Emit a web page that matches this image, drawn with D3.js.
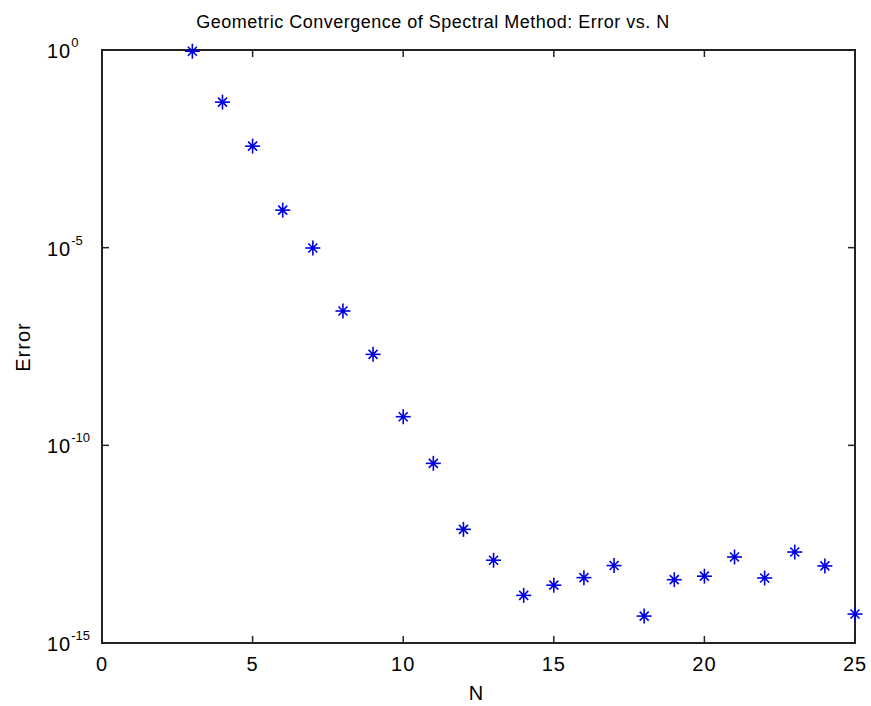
<!DOCTYPE html>
<html>
<head>
<meta charset="utf-8">
<script src="https://cdn.jsdelivr.net/npm/d3@7"></script>
<style>
  body { margin: 0; background: #fff; }
  text { font-family: "Liberation Sans", Arial, sans-serif; fill: #000; }
</style>
</head>
<body>
<svg id="chart" width="871" height="706"></svg>
<script>
// data
const nValues = [3, 4, 5, 6, 7, 8, 9, 10, 11, 12, 13, 14, 15, 16, 17, 18, 19, 20, 21, 22, 23, 24, 25];
const errValues = [0.93, 0.048, 3.7e-3, 8.9e-5, 9.8e-6, 2.5e-7, 2.0e-8, 5.3e-10, 3.5e-11, 7.5e-13,
  1.24e-13, 1.6e-14, 2.9e-14, 4.5e-14, 9.1e-14, 4.8e-15, 4.0e-14, 4.9e-14, 1.5e-13, 4.4e-14,
  2.0e-13, 8.9e-14, 5.4e-15];
const xTicks = [0, 5, 10, 15, 20, 25];
const yTickExps = [0, -5, -10, -15];

const margin = { left: 102, right: 855, top: 50, bottom: 643 };
const svg = d3.select('#chart');

const x = d3.scaleLinear().domain([0, 25]).range([margin.left, margin.right]);
const y = d3.scaleLog().domain([1e-15, 1]).range([margin.bottom, margin.top]);

const tickLen = 7;

// box
svg.append('rect')
  .attr('x', margin.left).attr('y', margin.top)
  .attr('width', margin.right - margin.left)
  .attr('height', margin.bottom - margin.top)
  .attr('fill', '#fff')
  .attr('stroke', '#222')
  .attr('stroke-width', 2);

// x ticks, inside on top and bottom
const xt = svg.append('g');
xTicks.forEach((t) => {
  xt.append('line')
    .attr('x1', x(t)).attr('x2', x(t))
    .attr('y1', margin.bottom).attr('y2', margin.bottom - tickLen)
    .attr('stroke', '#222').attr('stroke-width', 1.5);
  xt.append('line')
    .attr('x1', x(t)).attr('x2', x(t))
    .attr('y1', margin.top).attr('y2', margin.top + tickLen)
    .attr('stroke', '#222').attr('stroke-width', 1.5);
  xt.append('text')
    .attr('x', x(t)).attr('y', margin.bottom + 28)
    .attr('text-anchor', 'middle')
    .style('font-size', '20px')
    .style('letter-spacing', '1px')
    .text(t);
});

// y ticks, inside left and right; labels are left aligned like the original
const yt = svg.append('g');
yTickExps.forEach((e) => {
  const yy = y(Math.pow(10, e));
  yt.append('line')
    .attr('x1', margin.left).attr('x2', margin.left + tickLen)
    .attr('y1', yy).attr('y2', yy)
    .attr('stroke', '#222').attr('stroke-width', 1.5);
  yt.append('line')
    .attr('x1', margin.right).attr('x2', margin.right - tickLen)
    .attr('y1', yy).attr('y2', yy)
    .attr('stroke', '#222').attr('stroke-width', 1.5);
  const label = yt.append('text')
    .attr('x', 47).attr('y', yy + 8)
    .attr('text-anchor', 'start')
    .style('font-size', '20px');
  label.append('tspan').style('letter-spacing', '1px').text('10');
  label.append('tspan')
    .attr('dy', -11)
    .style('font-size', '13px')
    .text(e === 0 ? '0' : '-' + Math.abs(e));
});

// star markers
const pts = nValues.map((n, i) => ({ n: n, e: errValues[i] }));
const stars = svg.append('g')
  .selectAll('g.star')
  .data(pts)
  .enter().append('g')
  .attr('class', 'star')
  .attr('transform', (d) => 'translate(' + x(d.n) + ',' + y(d.e) + ')');
const a = 7.5, b = 4.5;
[[-a, 0, a, 0], [0, -a, 0, a], [-b, -b, b, b], [-b, b, b, -b]].forEach((s) => {
  stars.append('line')
    .attr('x1', s[0]).attr('y1', s[1])
    .attr('x2', s[2]).attr('y2', s[3])
    .attr('stroke', '#0000e0')
    .attr('stroke-width', 1.6);
});
stars.append('circle').attr('r', 2.2).attr('fill', '#0000e0');

// labels
svg.append('text')
  .attr('x', 433).attr('y', 28)
  .attr('text-anchor', 'middle')
  .style('font-size', '18px')
  .style('letter-spacing', '0.5px')
  .text('Geometric Convergence of Spectral Method: Error vs. N');

svg.append('text')
  .attr('x', 476).attr('y', 700)
  .attr('text-anchor', 'middle')
  .style('font-size', '20px')
  .text('N');

svg.append('text')
  .attr('transform', 'translate(30,' + 347 + ') rotate(-90)')
  .attr('text-anchor', 'middle')
  .style('font-size', '20px')
  .style('letter-spacing', '1px')
  .text('Error');
</script>
</body>
</html>
